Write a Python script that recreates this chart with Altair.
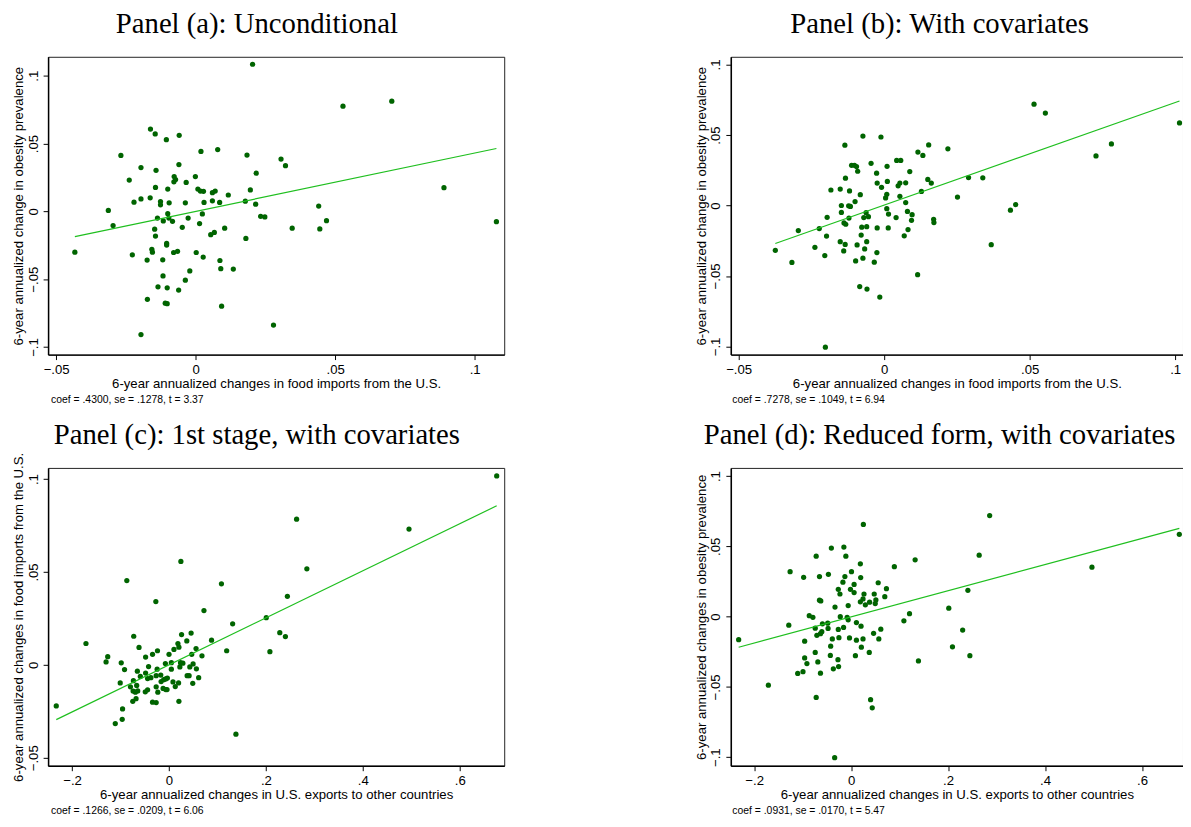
import altair as alt
import pandas as pd

# panel (a): unconditional
a_x = [0.0204, -0.0162, -0.0145, -0.0059, -0.0105, -0.0268, 0.0019, 0.0079, 0.0184, -0.0196,
       -0.0142, -0.0060, -0.0238, -0.0077, -0.0072, -0.0078, -0.0001, 0.0217, -0.0144, -0.0100,
       -0.0034, 0.0008, 0.0017, 0.0028, 0.0060, 0.0070, 0.0117, 0.0196, -0.0221, -0.0196,
       -0.0163, -0.0126, -0.0126, -0.0095, -0.0037, 0.0030, 0.0060, 0.0086, 0.0178, 0.0215,
       -0.0313, -0.0296, -0.0137, -0.0100, -0.0096, -0.0116, -0.0083, -0.0027, 0.0024, 0.0014,
       -0.0048, 0.0233, 0.0248, -0.0147, -0.0144, 0.0054, 0.0067, 0.0104, -0.0433, -0.0227,
       -0.0157, -0.0155, -0.0174, -0.0118, -0.0104, -0.0104, -0.0079, -0.0065, 0.0002, 0.0027,
       0.0087, 0.0090, 0.0135, 0.0180, -0.0021, -0.0117, -0.0037, -0.0135, -0.0102, -0.0061,
       -0.0173, -0.0109, -0.0102, 0.0093, -0.0196, 0.0279, 0.0306, 0.0528, 0.0703, 0.0322,
       0.0890, 0.0441, 0.0469, 0.0346, 0.0445, 0.1078]
a_y = [0.1085, 0.0607, 0.0571, 0.0561, 0.0529, 0.0413, 0.0442, 0.0456, 0.0415, 0.0323,
       0.0303, 0.0345, 0.0231, 0.0257, 0.0235, 0.0218, 0.0257, 0.0282, 0.0177, 0.0165,
       0.0214, 0.0165, 0.0150, 0.0148, 0.0138, 0.0150, 0.0121, 0.0158, 0.0068, 0.0092,
       0.0100, 0.0073, 0.0049, 0.0063, 0.0063, 0.0066, 0.0078, 0.0066, 0.0075, 0.0053,
       0.0007, -0.0104, -0.0049, -0.0017, -0.0049, -0.0070, -0.0073, -0.0049, -0.0019, -0.0090,
       -0.0117, -0.0036, -0.0041, -0.0131, -0.0182, -0.0172, -0.0155, -0.0124, -0.0301, -0.0320,
       -0.0279, -0.0301, -0.0359, -0.0357, -0.0235, -0.0248, -0.0303, -0.0294, -0.0303, -0.0337,
       -0.0362, -0.0422, -0.0425, -0.0199, -0.0439, -0.0476, -0.0507, -0.0556, -0.0563, -0.0580,
       -0.0648, -0.0677, -0.0680, -0.0699, -0.0908, -0.0838, 0.0386, 0.0776, 0.0813, 0.0337,
       0.0175, 0.0039, -0.0068, -0.0124, -0.0129, -0.0076]

# panel (b): with covariates
b_x = [-0.0202, -0.0073, -0.0011, -0.0135, -0.0045, -0.0112, -0.0102, -0.0095, -0.0091, -0.0133,
       -0.0026, 0.0010, 0.0043, 0.0057, 0.0116, 0.0133, 0.0153, 0.0088, -0.0183, -0.0151,
       -0.0119, -0.0082, -0.0024, -0.0009, 0.0011, 0.0009, 0.0005, 0.0048, 0.0054, 0.0074,
       0.0054, 0.0150, 0.0162, 0.0128, -0.0147, -0.0122, -0.0116, -0.0100, -0.0147, 0.0009,
       0.0015, 0.0074, 0.0080, 0.0096, -0.0196, -0.0121, -0.0138, -0.0132, -0.0070, -0.0062,
       -0.0054, 0.0041, 0.0094, 0.0170, 0.0171, -0.0295, -0.0223, -0.0077, -0.0060, -0.0024,
       0.0014, 0.0082, -0.0198, -0.0079, 0.0069, -0.0374, -0.0238, -0.0151, -0.0134, -0.0139,
       -0.0093, -0.0060, -0.0067, -0.0025, -0.0317, -0.0204, -0.0098, -0.0073, -0.0034, 0.0115,
       -0.0084, -0.0059, -0.0015, 0.0219, 0.0515, 0.0554, 0.1015, 0.0728, 0.0781, 0.0290,
       0.0339, 0.0252, 0.0434, 0.0452, 0.0368]
b_y = [-0.1005, 0.0493, 0.0486, 0.0428, 0.0299, 0.0285, 0.0285, 0.0276, 0.0243, 0.0194,
       0.0229, 0.0278, 0.0320, 0.0320, 0.0379, 0.0355, 0.0430, 0.0241, 0.0110, 0.0117,
       0.0103, 0.0077, 0.0159, 0.0129, 0.0171, 0.0079, 0.0054, 0.0140, 0.0159, 0.0161,
       0.0065, 0.0185, 0.0159, 0.0100, 0.0000, -0.0002, -0.0007, 0.0028, -0.0049, -0.0023,
       -0.0061, 0.0021, -0.0042, -0.0065, -0.0084, -0.0089, -0.0124, -0.0133, -0.0086, -0.0051,
       -0.0079, -0.0086, -0.0105, -0.0098, -0.0121, -0.0178, -0.0164, -0.0154, -0.0150, -0.0159,
       -0.0159, -0.0171, -0.0217, -0.0210, -0.0215, -0.0318, -0.0297, -0.0257, -0.0276, -0.0322,
       -0.0280, -0.0257, -0.0308, -0.0334, -0.0404, -0.0355, -0.0393, -0.0374, -0.0402, -0.0491,
       -0.0575, -0.0593, -0.0650, 0.0402, 0.0719, 0.0656, 0.0586, 0.0352, 0.0437, 0.0198,
       0.0196, 0.0060, -0.0033, 0.0007, -0.0278]

# panel (c): 1st stage, with covariates
c_x = [-0.2327, -0.1714, 0.0245, -0.0871, -0.0272, 0.1082, 0.0721, 0.1313, 0.2007, -0.0728,
       -0.0619, 0.0259, 0.0456, 0.0367, 0.0184, 0.0204, 0.0102, 0.0878, 0.1190, 0.2082,
       -0.1265, -0.1299, -0.0986, -0.0918, -0.0483, -0.0340, -0.0238, 0.0000, 0.0469, 0.0558,
       0.0680, -0.0075, 0.0048, 0.0238, 0.0286, 0.0497, -0.0422, -0.0245, 0.0048, 0.0224,
       0.0429, 0.0565, -0.0653, -0.0483, -0.0592, -0.0442, -0.0374, -0.0265, -0.0170, -0.0068,
       -0.0034, 0.0374, 0.0415, 0.0612, -0.1007, -0.0735, -0.0163, -0.0109, 0.0082, 0.0197,
       0.0490, -0.0796, -0.0667, -0.0265, -0.0122, -0.0068, -0.0041, 0.0129, -0.0741, -0.0646,
       -0.0490, -0.0442, -0.0231, -0.0694, -0.0748, -0.0680, -0.0340, -0.0265, 0.0204, -0.0959,
       -0.0966, -0.1109, 0.1381, 0.2286, 0.6763, 0.2633, 0.4953, 0.2845, 0.2443, 0.2402]
c_y = [-0.0221, 0.0115, 0.0557, 0.0454, 0.0341, 0.0436, 0.0292, 0.0221, 0.0254, 0.0154,
       0.0094, 0.0163, 0.0171, 0.0129, 0.0115, 0.0095, 0.0083, 0.0133, 0.0076, 0.0071,
       0.0044, 0.0016, 0.0011, -0.0025, 0.0042, 0.0057, 0.0076, 0.0057, 0.0057, 0.0088,
       0.0049, 0.0007, 0.0012, 0.0012, 0.0009, 0.0005, -0.0009, -0.0023, -0.0023, -0.0011,
       -0.0011, -0.0021, -0.0034, -0.0044, -0.0062, -0.0074, -0.0069, -0.0058, -0.0055, -0.0076,
       -0.0071, -0.0058, -0.0058, -0.0069, -0.0097, -0.0085, -0.0090, -0.0080, -0.0092, -0.0097,
       -0.0099, -0.0118, -0.0111, -0.0118, -0.0127, -0.0133, -0.0133, -0.0117, -0.0141, -0.0140,
       -0.0145, -0.0134, -0.0147, -0.0147, -0.0196, -0.0182, -0.0201, -0.0203, -0.0196, -0.0237,
       -0.0293, -0.0316, -0.0373, 0.0173, 0.1017, 0.0784, 0.0731, 0.0517, 0.0369, 0.0152]

# panel (d): reduced form, with covariates
d_x = [-0.2320, -0.1707, -0.1286, -0.1259, -0.0980, -0.0721, -0.0653, -0.0408, -0.0150, -0.0109,
       -0.0469, 0.0252, 0.0190, 0.0891, 0.1320, 0.0007, -0.0129, 0.0197, -0.0170, 0.0558,
       0.0061, -0.0265, -0.0014, 0.0728, -0.0231, 0.0061, 0.0265, 0.0476, 0.0694, -0.0653,
       -0.0626, 0.0245, 0.0190, 0.0381, 0.0293, -0.0061, 0.0510, -0.0333, 0.0497, -0.0864,
       -0.0789, -0.0224, -0.0082, -0.0061, 0.1204, 0.1088, -0.0592, -0.0483, -0.0741, -0.0476,
       -0.0265, -0.0156, 0.0109, 0.0204, 0.0612, -0.0605, -0.0707, -0.0633, 0.0463, -0.0959,
       -0.0388, -0.0252, -0.0034, 0.0109, 0.0245, 0.0571, 0.0211, -0.0422, -0.0741, -0.0429,
       0.0088, 0.0374, -0.0959, -0.0912, -0.0687, -0.0272, 0.1388, -0.1102, -0.0993, -0.0633,
       -0.0367, -0.0259, -0.0721, 0.0401, 0.0435, -0.0340, 0.2857, 0.2641, 0.4967, 0.6769,
       0.2408, 0.2014, 0.2300, 0.2090, 0.2449]
d_y = [-0.0164, -0.0488, -0.0061, 0.0320, 0.0280, 0.0430, 0.0285, 0.0488, 0.0495, 0.0430,
       0.0301, 0.0656, 0.0376, 0.0355, 0.0404, 0.0320, 0.0285, 0.0278, 0.0245, 0.0241,
       0.0229, 0.0194, 0.0194, 0.0199, 0.0161, 0.0171, 0.0161, 0.0161, 0.0142, 0.0117,
       0.0112, 0.0126, 0.0105, 0.0103, 0.0084, 0.0079, 0.0119, 0.0068, 0.0093, 0.0007,
       -0.0005, 0.0000, -0.0005, -0.0023, 0.0021, -0.0030, -0.0051, -0.0047, -0.0082, -0.0084,
       -0.0091, -0.0077, -0.0042, -0.0068, -0.0089, -0.0107, -0.0133, -0.0121, -0.0119, -0.0175,
       -0.0159, -0.0150, -0.0152, -0.0168, -0.0159, -0.0159, -0.0217, -0.0210, -0.0255, -0.0276,
       -0.0278, -0.0255, -0.0294, -0.0334, -0.0322, -0.0306, -0.0315, -0.0404, -0.0392, -0.0402,
       -0.0371, -0.0355, -0.0575, -0.0591, -0.0649, -0.1004, 0.0719, 0.0437, 0.0352, 0.0586,
       0.0187, 0.0060, -0.0096, -0.0215, -0.0278]

# fitted lines: slope from the notes, intercept
coefs = [0.4300, 0.7278, 0.1266, 0.0931]
intercepts = [0.0000, 0.0003, 0.0000, -0.0002]

titles = ["Panel (a): Unconditional", "Panel (b): With covariates",
          "Panel (c): 1st stage, with covariates", "Panel (d): Reduced form, with covariates"]
notes = ["coef = .4300, se = .1278, t = 3.37", "coef = .7278, se = .1049, t = 6.94",
         "coef = .1266, se = .0209, t = 6.06", "coef = .0931, se = .0170, t = 5.47"]
x_titles = ["6-year annualized changes in food imports from the U.S."] * 2 + \
           ["6-year annualized changes in U.S. exports to other countries"] * 2
y_titles = ["6-year annualized change in obesity prevalence",
            "6-year annualized change in obesity prevalence",
            "6-year annualized changes in food imports from the U.S.",
            "6-year annualized changes in obesity prevalence"]

x_ticks = [[-0.05, 0, 0.05, 0.1], [-0.05, 0, 0.05, 0.1],
           [-0.2, 0, 0.2, 0.4, 0.6], [-0.2, 0, 0.2, 0.4, 0.6]]
y_ticks = [[-0.1, -0.05, 0, 0.05, 0.1], [-0.1, -0.05, 0, 0.05, 0.1],
           [-0.05, 0, 0.05, 0.1], [-0.1, -0.05, 0, 0.05, 0.1]]
x_domains = [[-0.0529, 0.1106], [-0.0527, 0.1027], [-0.2496, 0.6918], [-0.2482, 0.6845]]
y_domains = [[-0.1056, 0.114], [-0.1058, 0.1055], [-0.0543, 0.106], [-0.1061, 0.1058]]

DOT = "#006400"
FIT = "#1fbf1f"
H = 301
LBL = "replace(format(datum.value, '~g'), '0.', '.')"


def panel(i, px, py, width):
    pts = pd.DataFrame({"x": px, "y": py})
    lo, hi = min(px), max(px)
    fit = pd.DataFrame({"x": [lo, hi],
                        "y": [intercepts[i] + coefs[i] * lo, intercepts[i] + coefs[i] * hi]})
    xs = alt.Scale(domain=x_domains[i], nice=False, zero=False)
    ys = alt.Scale(domain=y_domains[i], nice=False, zero=False)

    dots = alt.Chart(pts).mark_circle(size=28, color=DOT, opacity=1).encode(
        x=alt.X("x:Q", scale=xs,
                axis=alt.Axis(values=x_ticks[i], title=x_titles[i], labelExpr=LBL)),
        y=alt.Y("y:Q", scale=ys,
                axis=alt.Axis(values=y_ticks[i], title=y_titles[i], labelExpr=LBL,
                              labelAngle=270, labelAlign="center", labelBaseline="bottom")),
    )
    line = alt.Chart(fit).mark_line(color=FIT, strokeWidth=1.2).encode(
        x=alt.X("x:Q", scale=xs), y=alt.Y("y:Q", scale=ys))

    # panel heading and regression note, both placed relative to the plot area
    head = alt.Chart(pd.DataFrame({"t": [titles[i]]})).mark_text(
        align="center", baseline="alphabetic", fontSize=29, font="Liberation Serif", color="black"
    ).encode(x=alt.value(211), y=alt.value(-24), text="t:N")
    note = alt.Chart(pd.DataFrame({"t": [notes[i]]})).mark_text(
        align="left", baseline="middle", fontSize=10.5, font="Liberation Sans", color="black"
    ).encode(x=alt.value(3 if i % 2 == 0 else 1.5), y=alt.value(H + 45.5), text="t:N")

    return alt.layer(dots, line, head, note).properties(width=width, height=H)


top = alt.hconcat(panel(0, a_x, a_y, 461), panel(1, b_x, b_y, 457), spacing=190)
bottom = alt.hconcat(panel(2, c_x, c_y, 461), panel(3, d_x, d_y, 457), spacing=190)

chart = alt.vconcat(top, bottom, spacing=14.5).properties(
    padding={"left": 2.5, "top": -3, "right": -1, "bottom": -2}
).configure_view(
    stroke="#222", strokeWidth=1
).configure_axis(
    grid=False, domainColor="black", domainWidth=1.5,
    tickColor="black", tickSize=5, tickWidth=1,
    labelFont="Liberation Sans", labelFontSize=13.3, labelColor="black",
    labelPadding=3, labelFlush=False, labelOverlap=False,
    titleFont="Liberation Sans", titleFontSize=13.3, titleFontWeight="normal",
    titleColor="black", titlePadding=1,
)

chart.save("out.html", embed_options={"renderer": "svg", "actions": False})
